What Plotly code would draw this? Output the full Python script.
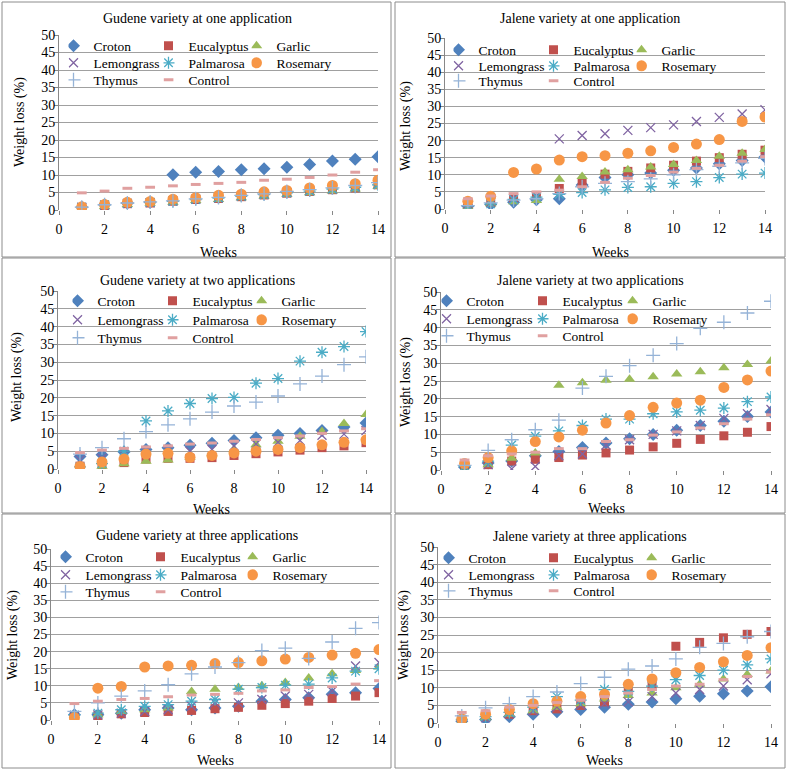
import plotly.graph_objects as go

weeks = [1, 2, 3, 4, 5, 6, 7, 8, 9, 10, 11, 12, 13, 14]
oils = ["Croton", "Eucalyptus", "Garlic", "Lemongrass", "Palmarosa", "Rosemary", "Thymus", "Control"]

gudene_one = {
    "Croton": [0.8, 1.5, 2.0, 2.2, 10.1, 10.8, 11.0, 11.5, 11.8, 12.2, 13.0, 14.0, 14.5, 15.2],
    "Eucalyptus": [0.7, 1.3, 1.8, 2.0, 2.5, 3.0, 3.3, 3.8, 4.3, 4.8, 5.3, 5.8, 6.3, 7.2],
    "Garlic": [0.5, 1.0, 1.6, 1.9, 2.2, 2.7, 3.0, 3.5, 4.0, 4.5, 4.9, 5.4, 6.0, 6.8],
    "Lemongrass": [0.8, 1.4, 1.9, 2.1, 2.6, 3.1, 3.5, 4.0, 4.5, 5.0, 5.5, 6.0, 6.6, 7.4],
    "Palmarosa": [0.8, 1.5, 1.9, 2.2, 2.5, 3.0, 3.4, 3.9, 4.4, 4.9, 5.4, 6.0, 6.5, 7.2],
    "Rosemary": [0.9, 1.6, 2.2, 2.4, 3.1, 3.5, 4.2, 4.5, 5.2, 5.6, 6.3, 7.0, 7.5, 8.5],
    "Thymus": [0.8, 1.5, 2.0, 2.3, 2.6, 3.2, 3.6, 4.2, 4.6, 5.3, 5.8, 6.3, 7.0, 7.8],
    "Control": [4.9, 5.4, 6.2, 6.5, 6.9, 7.3, 7.6, 7.9, 8.5, 8.8, 9.3, 10.0, 10.8, 11.5],
}
jalene_one = {
    "Croton": [0.8, 1.3, 2.0, 2.7, 3.0, 7.0, 9.2, 10.0, 10.5, 11.3, 12.0, 13.2, 14.2, 15.2],
    "Eucalyptus": [1.0, 2.0, 2.8, 3.2, 6.0, 7.5, 10.2, 11.0, 12.0, 12.8, 14.0, 15.0, 16.0, 17.2],
    "Garlic": [0.7, 1.5, 2.1, 2.5, 8.7, 9.5, 10.8, 11.5, 12.3, 13.0, 14.2, 15.4, 16.3, 17.4],
    "Lemongrass": [1.5, 2.0, 3.0, 3.8, 20.5, 21.5, 22.0, 23.0, 23.8, 24.6, 25.6, 26.8, 27.8, 29.0],
    "Palmarosa": [0.9, 1.5, 2.8, 3.5, 4.3, 4.8, 5.6, 6.3, 6.5, 7.5, 8.0, 9.2, 10.2, 10.5],
    "Rosemary": [2.3, 3.7, 10.7, 11.7, 14.3, 15.3, 15.6, 16.3, 17.0, 18.0, 19.0, 20.3, 25.6, 26.9],
    "Thymus": [1.0, 1.8, 2.6, 3.0, 4.5, 6.5, 7.5, 8.0, 8.8, 10.0, 11.5, 12.5, 13.5, 14.8],
    "Control": [3.0, 3.8, 4.5, 5.0, 5.5, 6.5, 7.8, 9.0, 9.8, 10.8, 11.9, 12.8, 14.0, 15.3],
}
gudene_two = {
    "Croton": [3.5, 4.0, 4.8, 5.5, 6.0, 6.7, 7.2, 8.0, 8.8, 9.5, 10.0, 10.8, 11.8, 12.9],
    "Eucalyptus": [0.8, 1.2, 1.8, 2.8, 3.0, 3.0, 3.2, 3.8, 4.3, 4.8, 5.3, 6.0, 6.5, 7.4],
    "Garlic": [0.5, 0.8, 1.5, 2.2, 2.5, 3.2, 4.3, 5.5, 6.8, 7.8, 9.2, 10.5, 12.8, 15.3],
    "Lemongrass": [2.5, 3.0, 4.0, 5.0, 5.2, 5.0, 5.5, 6.5, 7.0, 7.5, 8.0, 9.5, 9.8, 10.8],
    "Palmarosa": [0.6, 1.5, 5.0, 13.5, 16.3, 18.4, 19.8, 20.1, 24.1, 25.4, 30.3, 32.8, 34.4, 38.6],
    "Rosemary": [0.7, 2.0, 2.8, 4.2, 4.4, 3.3, 3.8, 4.5, 5.0, 5.5, 6.0, 6.8, 7.5, 8.2],
    "Thymus": [4.2, 6.0, 8.5, 10.5, 12.4, 14.1, 16.0, 17.7, 18.8, 20.5, 23.9, 26.1, 29.3, 31.5],
    "Control": [4.6, 5.3, 5.8, 6.2, 6.5, 7.0, 7.3, 7.8, 8.3, 8.8, 9.3, 10.0, 10.7, 11.3],
}
jalene_two = {
    "Croton": [0.8, 2.0, 2.5, 4.0, 5.2, 6.3, 7.6, 8.8, 10.0, 11.2, 12.5, 13.7, 15.0, 16.3],
    "Eucalyptus": [0.5, 1.5, 2.5, 3.0, 3.5, 4.2, 4.8, 5.6, 6.5, 7.5, 8.6, 9.6, 10.6, 12.2],
    "Garlic": [0.3, 1.5, 3.3, 4.8, 23.8, 24.5, 25.2, 25.5, 26.2, 27.0, 27.6, 28.7, 29.6, 30.6],
    "Lemongrass": [0.8, 1.5, 0.3, 1.0, 4.0, 4.5, 7.0, 8.5, 10.0, 11.0, 12.5, 14.5, 15.8, 17.0],
    "Palmarosa": [1.0, 2.5, 7.0, 9.5, 11.0, 12.5, 14.3, 14.3, 15.8, 16.3, 16.8, 17.4, 19.2, 20.5],
    "Rosemary": [1.8, 3.5, 5.4, 8.0, 9.3, 11.2, 13.2, 15.3, 17.6, 18.8, 19.6, 23.2, 25.3, 27.8],
    "Thymus": [1.3, 5.5, 8.5, 11.3, 14.0, 23.0, 26.3, 29.3, 32.2, 35.5, 39.8, 41.5, 44.1, 47.4],
    "Control": [2.8, 4.0, 4.5, 5.0, 6.0, 6.0, 8.0, 8.5, 9.8, 10.7, 11.8, 13.0, 14.3, 15.5],
}
gudene_three = {
    "Croton": [1.5, 1.5, 2.0, 3.0, 3.5, 3.0, 3.5, 4.0, 5.5, 6.0, 6.5, 7.5, 8.0, 9.2],
    "Eucalyptus": [0.8, 1.2, 1.8, 2.2, 2.5, 2.8, 3.3, 3.7, 4.3, 4.8, 5.5, 6.3, 7.0, 8.0],
    "Garlic": [0.5, 1.5, 2.5, 3.0, 3.5, 8.3, 9.0, 9.5, 10.0, 11.0, 12.3, 13.5, 14.5, 15.5],
    "Lemongrass": [1.0, 1.5, 2.0, 2.5, 3.0, 4.0, 5.0, 5.0, 6.0, 7.0, 7.5, 8.5, 15.8, 16.8],
    "Palmarosa": [1.5, 2.0, 3.0, 4.0, 4.5, 5.5, 6.0, 9.0, 9.5, 10.2, 10.5, 12.3, 14.3, 15.0],
    "Rosemary": [0.7, 9.3, 9.8, 15.5, 15.8, 16.0, 16.5, 16.8, 17.3, 17.8, 18.3, 19.0, 19.5, 20.6],
    "Thymus": [2.5, 5.0, 7.0, 8.5, 10.3, 13.5, 15.5, 16.8, 20.3, 21.0, 18.0, 22.8, 26.8, 28.5],
    "Control": [4.8, 5.5, 6.0, 6.3, 6.8, 7.3, 7.5, 7.8, 8.5, 8.8, 9.5, 9.8, 10.5, 11.5],
}
jalene_three = {
    "Croton": [0.5, 1.0, 1.8, 2.5, 3.2, 3.8, 4.5, 5.3, 6.0, 6.9, 7.6, 8.3, 9.1, 10.3],
    "Eucalyptus": [0.8, 1.8, 2.5, 3.5, 4.0, 5.0, 6.0, 9.2, 11.0, 21.8, 22.9, 24.2, 25.2, 26.0],
    "Garlic": [0.5, 1.5, 2.5, 3.5, 4.5, 5.5, 6.8, 7.8, 8.5, 10.0, 11.0, 12.5, 13.8, 14.8],
    "Lemongrass": [1.0, 1.5, 2.8, 3.5, 4.5, 5.2, 5.5, 6.0, 7.5, 8.5, 9.5, 10.5, 12.3, 14.0],
    "Palmarosa": [1.0, 1.8, 3.0, 4.5, 7.5, 6.5, 9.5, 9.0, 10.5, 12.3, 13.5, 15.0, 16.5, 18.2],
    "Rosemary": [1.2, 2.5, 3.8, 5.5, 6.2, 7.5, 8.2, 11.0, 12.5, 14.3, 15.8, 17.4, 19.2, 21.4],
    "Thymus": [2.0, 4.3, 5.5, 7.5, 8.8, 11.2, 13.0, 15.3, 16.2, 18.2, 21.5, 22.6, 24.5, 26.0],
    "Control": [3.0, 3.5, 4.5, 5.0, 5.8, 6.5, 7.5, 8.5, 9.5, 10.5, 11.0, 12.3, 13.2, 14.5],
}

titles = [
    "Gudene variety at one application", "Jalene variety at one application",
    "Gudene variety at two applications", "Jalene variety at two applications",
    "Gudene variety at three applications", "Jalene variety at three applications",
]
panels = [gudene_one, jalene_one, gudene_two, jalene_two, gudene_three, jalene_three]

W, H = 787, 770
FONT = "Liberation Serif"

# marker look per oil (Excel-like)
styles = {
    "Croton": dict(symbol="diamond", size=10, color="#4F81BD"),
    "Eucalyptus": dict(symbol="square", size=9, color="#C0504D"),
    "Garlic": dict(symbol="triangle-up", size=10, color="#9BBB59"),
    "Lemongrass": dict(symbol="x-thin-open", size=9, color="#8064A2", line=dict(width=1.3, color="#8064A2")),
    "Palmarosa": dict(symbol="asterisk-open", size=10, color="#4BACC6", line=dict(width=1.3, color="#4BACC6")),
    "Rosemary": dict(symbol="circle", size=11, color="#F79646"),
    "Thymus": dict(symbol="cross-thin-open", size=10, color="#95B3D7", line=dict(width=1.3, color="#95B3D7")),
    "Control": dict(symbol="line-ew-open", size=7, color="#E0A0A0", line=dict(width=3, color="#E0A0A0")),
}

# plot areas in pixels: x at 0, x at 14, y at 50, y at 0
areas = [
    (59, 378, 35, 210),
    (445, 765, 38, 209),
    (58, 366, 291, 469),
    (441, 771, 292, 470),
    (51, 379, 549, 720),
    (438, 771, 547, 723),
]
# legend: marker x of the three columns, y of the three rows
leg_cols = [(78, 166, 252), (463, 551, 637), (82, 170, 257), (451, 540, 628), (70, 158, 248), (453, 551, 647)]
leg_rows = [(46, 63, 80), (50, 66, 81), (301, 320, 338), (301, 319, 336), (557, 575, 592), (558, 575, 591)]
# plotly keeps ~21px between symbol and text, so nudge the symbols a little
col_nudge = (-6, 1, 3)
title_pos = [(197, 18), (590, 18), (197, 280), (590, 280), (197, 535), (590, 536)]
ytitle_pos = [(20, 122), (406, 126), (17, 377), (406, 382), (13, 635), (404, 635)]
xtitle_pos = [(218, 252), (610, 252), (212, 509), (606, 508), (215, 760), (604, 760)]
panel_boxes = [(2, 391, 2, 257), (395, 785, 2, 257), (2, 391, 258, 513), (395, 785, 258, 513),
               (2, 391, 514, 768), (395, 785, 514, 768)]

fig = go.Figure()
layout = dict(width=W, height=H, margin=dict(l=0, r=0, t=0, b=0, autoexpand=False),
              paper_bgcolor="white", plot_bgcolor="white",
              font=dict(family=FONT, size=14, color="black"))
annotations = []
shapes = []

for p, data in enumerate(panels):
    ax = "" if p == 0 else str(p + 1)
    x0, x1, y50, y0 = areas[p]
    layout["xaxis" + ax] = dict(
        domain=[x0 / W, x1 / W], anchor="y" + ax, range=[0, 14], dtick=2,
        showgrid=False, zeroline=False, showline=False,
        ticks="outside", ticklen=4, tickcolor="#888", tickwidth=1,
        ticklabelstandoff=2, tickfont=dict(size=14), fixedrange=True,
    )
    layout["yaxis" + ax] = dict(
        domain=[1 - y0 / H, 1 - y50 / H], anchor="x" + ax, range=[0, 50], dtick=5,
        showgrid=True, gridcolor="#A0A0A0", gridwidth=1.3, zeroline=False,
        showline=True, linecolor="#888", linewidth=1,
        ticks="outside", ticklen=4, tickcolor="#888",
        ticklabelstandoff=-4, tickfont=dict(size=14), fixedrange=True,
    )
    for i, oil in enumerate(oils):
        row, col = divmod(i, 3)
        lid = p * 8 + i + 1
        lname = "legend" if lid == 1 else "legend%d" % lid
        fig.add_trace(go.Scatter(
            x=weeks, y=data[oil], mode="markers", name=oil,
            marker=styles[oil], xaxis="x" + ax, yaxis="y" + ax,
            legend=lname, showlegend=True,
        ))
        # one small legend per entry so the 3-column grid sits where the reference has it
        layout[lname] = dict(
            orientation="h", xref="paper", yref="paper",
            x=(leg_cols[p][col] + col_nudge[col] - 3.5) / W, y=1 - leg_rows[p][row] / H,
            xanchor="left", yanchor="middle",
            bgcolor="rgba(0,0,0,0)", borderwidth=0,
            itemwidth=30, indentation=-15, font=dict(size=13.5),
        )
    tx, ty = title_pos[p]
    annotations.append(dict(text=titles[p], x=tx / W, y=1 - ty / H, xref="paper", yref="paper",
                            showarrow=False, font=dict(size=14), xanchor="center", yanchor="middle"))
    yx, yy = ytitle_pos[p]
    annotations.append(dict(text="Weight loss (%)", x=yx / W, y=1 - yy / H, xref="paper", yref="paper",
                            showarrow=False, textangle=-90, font=dict(size=14),
                            xanchor="center", yanchor="middle"))
    wx, wy = xtitle_pos[p]
    annotations.append(dict(text="Weeks", x=wx / W, y=1 - wy / H, xref="paper", yref="paper",
                            showarrow=False, font=dict(size=14), xanchor="center", yanchor="middle"))
    bx0, bx1, by0, by1 = panel_boxes[p]
    shapes.append(dict(type="rect", xref="paper", yref="paper",
                       x0=bx0 / W, x1=bx1 / W, y0=1 - by1 / H, y1=1 - by0 / H,
                       line=dict(color="#8C8C8C", width=1), layer="below"))

layout["annotations"] = annotations
layout["shapes"] = shapes
fig.update_layout(**layout)

# the page's default body margin would shift the 787x770 figure; drop it
fig.write_html("out.html", config={"displayModeBar": False},
               post_script="document.body.style.margin='0';")
